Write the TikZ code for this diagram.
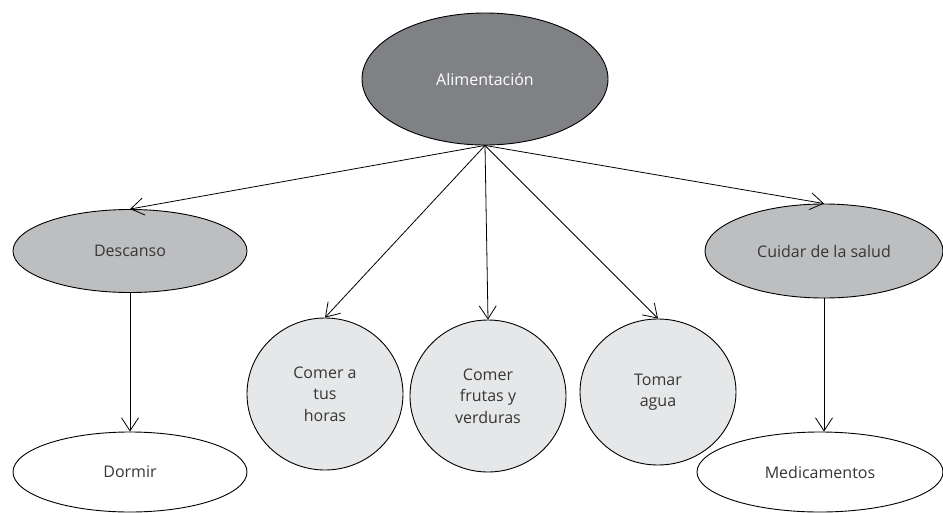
\documentclass[tikz,border=0pt]{standalone}
\usepackage{fontspec}
\setmainfont{Open Sans}
\usetikzlibrary{positioning, shapes.geometric, arrows.meta}
\definecolor{topgray}{HTML}{808184}
\definecolor{midgray}{HTML}{BDBEC0}
\definecolor{lightgray}{HTML}{E6E7E8}
\definecolor{textgray}{HTML}{363636}

\begin{document}
\begin{tikzpicture}[x=1pt, y=-1pt,
    font=\fontsize{16}{21.5}\selectfont, text=textgray,
    blob/.style={ellipse, draw=black, line width=0.9pt, inner sep=0pt, align=center},
    link/.style={-{Straight Barb[length=13pt, width=17pt]}, line width=0.8pt}]
  \useasboundingbox (0,0) rectangle (943,512);
  % top level
  \node[blob, fill=topgray, text=white, minimum width=246, minimum height=132] (alim) at (485,79) {Alimentación};
  % second level
  \node[blob, fill=midgray, minimum width=234, minimum height=83] (desc) at (130,251) {Descanso};
  \node[blob, fill=midgray, minimum width=238, minimum height=94] (salud) at (824,251) {Cuidar de la salud};
  \node[blob, fill=lightgray, minimum width=156, minimum height=152] (horas) at (325,394) {Comer a\\tus\\horas};
  \node[blob, fill=lightgray, minimum width=156, minimum height=152] (frutas) at (488,396) {Comer\\frutas y\\verduras};
  \node[blob, fill=lightgray, minimum width=156, minimum height=146] (agua) at (658,392) {Tomar\\agua};
  % third level
  \node[blob, fill=white, minimum width=234, minimum height=80] (dormir) at (130,472) {Dormir};
  \node[blob, fill=white, minimum width=246, minimum height=80] (medic) at (820,472) {Medicamentos};
  % connectors
  \foreach \t in {desc, horas, frutas, agua, salud}
    \draw[link] (alim.south) -- (\t.north);
  \draw[link] (desc.south) -- (dormir.north);
  \draw[link] (salud.south) -- (salud.south |- medic.north);
\end{tikzpicture}
\end{document}
